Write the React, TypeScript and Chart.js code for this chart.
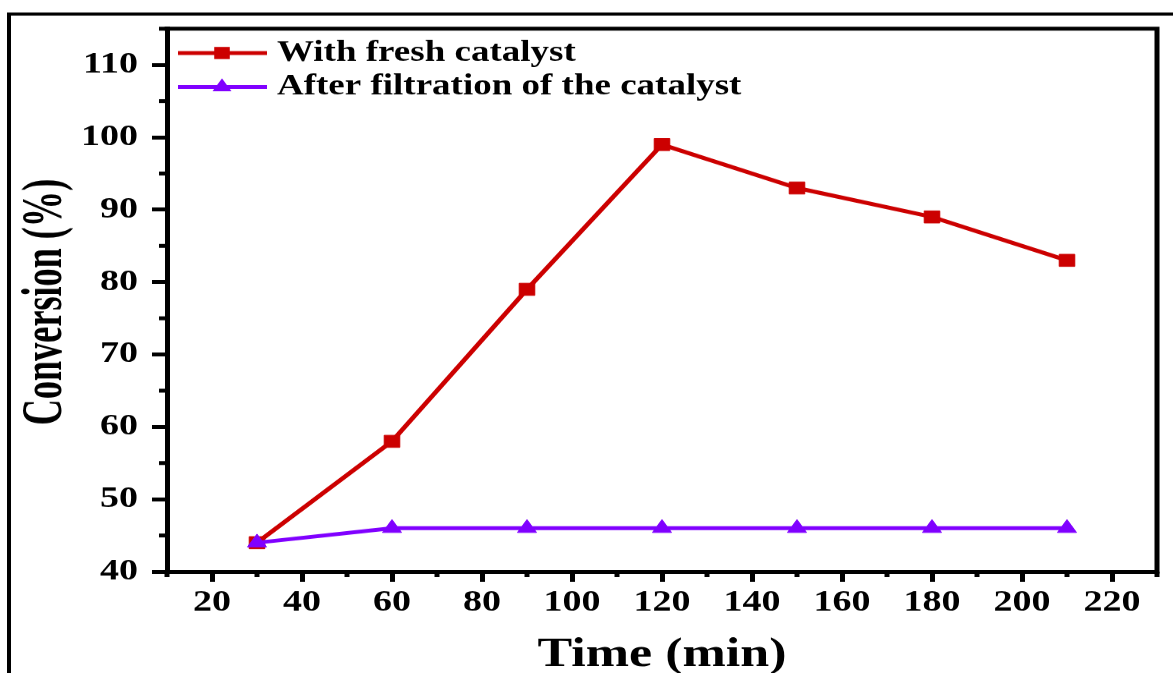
import React, { useEffect, useRef } from "react";
import { Chart, registerables } from "chart.js";

Chart.register(...registerables);

// ---- data ----
const times = [30, 60, 90, 120, 150, 180, 210];
const freshCatalyst = [44, 58, 79, 99, 93, 89, 83];
const afterFiltration = [44, 46, 46, 46, 46, 46, 46];
const seriesLabels = ["With fresh catalyst", "After filtration of the catalyst"];
const xMajorTicks = [20, 40, 60, 80, 100, 120, 140, 160, 180, 200, 220];
const xMinorTicks = [10, 30, 50, 70, 90, 110, 130, 150, 170, 190, 210, 230];
const yMajorTicks = [40, 50, 60, 70, 80, 90, 100, 110];
const yMinorTicks = [45, 55, 65, 75, 85, 95, 105, 115];
const xTitle = "Time (min)";
const yTitle = "Conversion (%)";

// ---- layout / style ----
const W = 1173;
const H = 673;
const CH = 863; // canvas height before vertical squash
const SQ = H / CH;
const FONT = "'Liberation Serif', 'Times New Roman', serif";
const RED = "#CC0000";
const PURPLE = "#8000FF";

function drawMarker(ctx: CanvasRenderingContext2D, style: string, x: number, y: number, r: number) {
  ctx.beginPath();
  if (style === "rect") {
    const s = r * Math.SQRT1_2;
    ctx.rect(x - s, y - s, 2 * s, 2 * s);
  } else {
    let a = 0;
    ctx.moveTo(x + Math.sin(a) * r, y - Math.cos(a) * r);
    a += (2 * Math.PI) / 3;
    ctx.lineTo(x + Math.sin(a) * r, y - Math.cos(a) * r);
    a += (2 * Math.PI) / 3;
    ctx.lineTo(x + Math.sin(a) * r, y - Math.cos(a) * r);
    ctx.closePath();
  }
  ctx.fill();
}

const decorPlugin = {
  id: "decor",
  afterDraw(chart: any) {
    const { ctx, chartArea: ca, scales } = chart;
    const xs = scales.x;
    const ys = scales.y;
    ctx.save();
    ctx.strokeStyle = "#000";
    ctx.lineCap = "butt";
    ctx.lineWidth = 5;
    // minor ticks
    yMinorTicks.forEach((v) => {
      const py = ys.getPixelForValue(v);
      ctx.beginPath();
      ctx.moveTo(ca.left - 8, py);
      ctx.lineTo(ca.left, py);
      ctx.stroke();
    });
    xMinorTicks.forEach((v) => {
      const px = xs.getPixelForValue(v);
      ctx.beginPath();
      ctx.moveTo(px, ca.bottom);
      ctx.lineTo(px, ca.bottom + 7);
      ctx.stroke();
    });
    // top & right frame
    ctx.beginPath();
    ctx.moveTo(ca.left - 2.5, ca.top);
    ctx.lineTo(ca.right, ca.top);
    ctx.lineTo(ca.right, ca.bottom + 2.5);
    ctx.stroke();
    // outer frame
    ctx.lineWidth = 4;
    ctx.beginPath();
    ctx.moveTo(9, chart.height);
    ctx.lineTo(9, 18);
    ctx.lineTo(chart.width, 18);
    ctx.stroke();

    // legend
    chart.data.datasets.forEach((ds: any, i: number) => {
      const cy = (53 + 34 * i) / SQ;
      ctx.strokeStyle = ds.borderColor;
      ctx.fillStyle = ds.backgroundColor;
      ctx.lineWidth = 5;
      ctx.beginPath();
      ctx.moveTo(178, cy);
      ctx.lineTo(267, cy);
      ctx.stroke();
      drawMarker(ctx, ds.pointStyle, 222, cy, ds.pointRadius);
      ctx.fillStyle = "#000";
      ctx.font = `bold 37px ${FONT}`;
      ctx.textAlign = "left";
      ctx.textBaseline = "middle";
      ctx.fillText(ds.label, 277, cy);
    });

    // y title (condensed)
    ctx.fillStyle = "#000";
    ctx.font = `bold 58px ${FONT}`;
    ctx.translate(46, 302 / SQ);
    ctx.rotate(-Math.PI / 2);
    ctx.scale(0.8, 1);
    ctx.textAlign = "center";
    ctx.textBaseline = "middle";
    ctx.fillText(yTitle, 0, 0);
    ctx.restore();
  },
};

export default function App() {
  const ref = useRef<HTMLCanvasElement>(null);

  useEffect(() => {
    if (!ref.current) return;
    const chart = new Chart(ref.current, {
      type: "line",
      data: {
        datasets: [
          {
            label: seriesLabels[0],
            data: times.map((t, i) => ({ x: t, y: freshCatalyst[i] })),
            borderColor: RED,
            backgroundColor: RED,
            borderWidth: 5,
            pointStyle: "rect",
            pointRadius: 11,
            pointBorderWidth: 1,
            tension: 0,
            order: 1,
          },
          {
            label: seriesLabels[1],
            data: times.map((t, i) => ({ x: t, y: afterFiltration[i] })),
            borderColor: PURPLE,
            backgroundColor: PURPLE,
            borderWidth: 5,
            pointStyle: "triangle",
            pointRadius: 11,
            pointBorderWidth: 1,
            tension: 0,
            order: 0,
          },
        ],
      },
      options: {
        responsive: false,
        devicePixelRatio: 1,
        animation: false,
        layout: { padding: { top: 34, right: 16, left: 0, bottom: 0 } },
        plugins: {
          legend: { display: false },
          tooltip: { enabled: false },
        },
        scales: {
          x: {
            type: "linear",
            position: "bottom",
            min: 10,
            max: 230,
            afterBuildTicks: (s: any) => {
              s.ticks = xMajorTicks.map((v) => ({ value: v }));
            },
            afterFit: (s: any) => {
              s.height = CH - 733;
            },
            grid: {
              display: true,
              drawOnChartArea: false,
              drawTicks: true,
              tickLength: 13,
              tickWidth: 5,
              tickColor: "#000",
            },
            border: { display: true, width: 5, color: "#000" },
            ticks: {
              font: { family: FONT, size: 38, weight: "bold" },
              color: "#000",
              padding: 4,
              maxRotation: 0,
              autoSkip: false,
            },
            title: {
              display: true,
              text: xTitle,
              color: "#000",
              font: { family: FONT, size: 52, weight: "bold", lineHeight: 0.85 },
              padding: 0,
            },
          },
          y: {
            type: "linear",
            min: 40,
            max: 115,
            afterBuildTicks: (s: any) => {
              s.ticks = yMajorTicks.map((v) => ({ value: v }));
            },
            afterFit: (s: any) => {
              s.width = 167;
            },
            grid: {
              display: true,
              drawOnChartArea: false,
              drawTicks: true,
              tickLength: 15,
              tickWidth: 5,
              tickColor: "#000",
            },
            border: { display: true, width: 5, color: "#000" },
            ticks: {
              font: { family: FONT, size: 38, weight: "bold" },
              color: "#000",
              padding: 14,
              autoSkip: false,
            },
            title: { display: false },
          },
        },
      },
      plugins: [decorPlugin],
    } as any);
    return () => chart.destroy();
  }, []);

  return (
    <div
      style={{
        position: "fixed",
        left: 0,
        top: 0,
        width: W,
        height: H,
        overflow: "hidden",
        background: "#fff",
      }}
    >
      <div
        style={{
          width: W,
          height: CH,
          transform: `scaleY(${SQ})`,
          transformOrigin: "0 0",
        }}
      >
        <canvas
          ref={ref}
          width={W}
          height={CH}
          style={{ display: "block", width: W, height: CH }}
        />
      </div>
    </div>
  );
}
